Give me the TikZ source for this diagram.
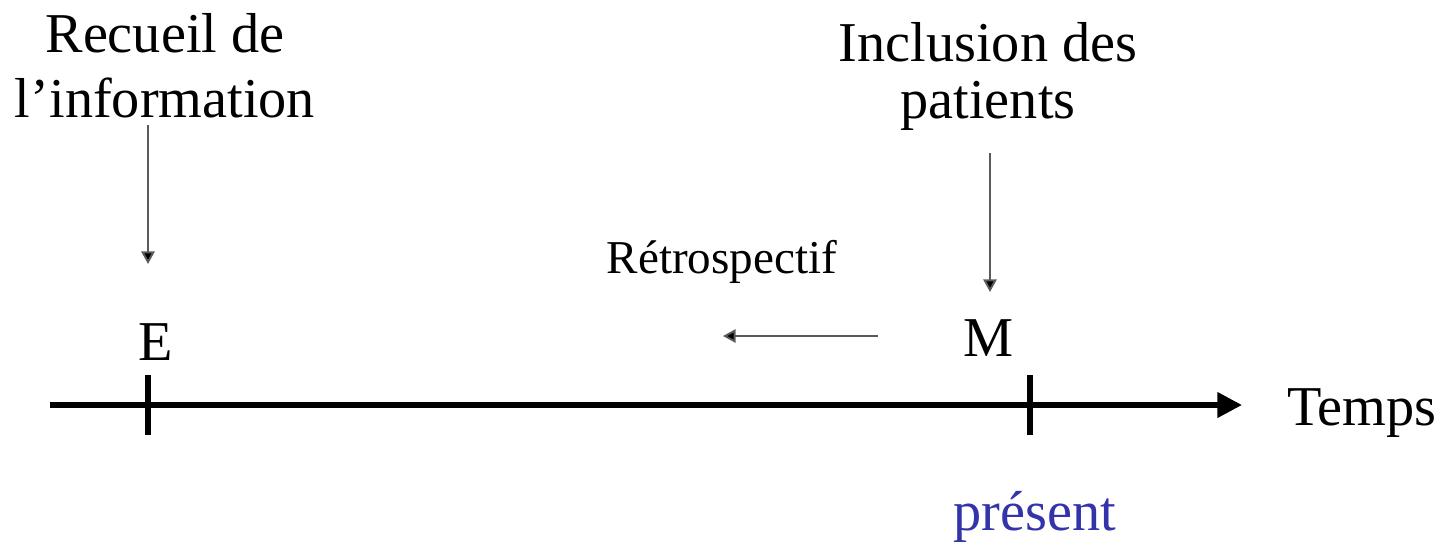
\documentclass[tikz,border=0pt]{standalone}
\usepackage{fontspec}
\setmainfont{Liberation Serif}
\usetikzlibrary{arrows.meta}
\definecolor{presentblue}{RGB}{52,52,170}
\definecolor{thinline}{RGB}{90,90,90}
\begin{document}
\begin{tikzpicture}[x=0.01cm,y=-0.01cm,
  lbl/.style={font=\fontsize{16}{18.4}\selectfont, align=center, anchor=base, inner sep=0pt},
  small/.style={font=\fontsize{13.4}{15}\selectfont, anchor=base, inner sep=0pt},
  pointer/.style={draw=thinline, line width=0.55pt, -{Triangle[length=3.6pt,width=3.8pt,fill=black]}},
  axis/.style={line width=1.5pt, -{Triangle[length=7pt,width=7pt]}},
  tick/.style={line width=1.8pt}]
\useasboundingbox (0,0) rectangle (1444,547);

% labels above the time line (anchored on the baseline of the last line)
\node[lbl] (recueil) at (165,117) {Recueil de\\l'information};
\node[lbl, font=\fontsize{16}{16.2}\selectfont] (inclusion) at (988,118) {Inclusion des\\patients};
\node[small] (retro) at (722,273) {Rétrospectif};

% event letters
\node[lbl] (E) at (156,360) {E};
\node[lbl] (M) at (989,356) {M};

% time axis
\coordinate (a0) at (50,405);
\coordinate (a1) at (1242,405);
\draw[axis] (a0) -- (a1);
\node[lbl] (temps) at (1362,425) {Temps};
\node[lbl, text=presentblue] (present) at (1035,530) {présent};

% ticks
\coordinate (tE1) at (148,375); \coordinate (tE2) at (148,435);
\coordinate (tM1) at (1030,375); \coordinate (tM2) at (1030,435);
\draw[tick] (tE1) -- (tE2);
\draw[tick] (tM1) -- (tM2);

% pointers
\coordinate (p1s) at (148,125); \coordinate (p1e) at (148,264);
\coordinate (p2s) at (990,153); \coordinate (p2e) at (990,292);
\coordinate (r1) at (878,336); \coordinate (r2) at (723,336);
\draw[pointer] (p1s) -- (p1e);
\draw[pointer] (p2s) -- (p2e);
\draw[pointer] (r1) -- (r2);
\end{tikzpicture}
\end{document}
